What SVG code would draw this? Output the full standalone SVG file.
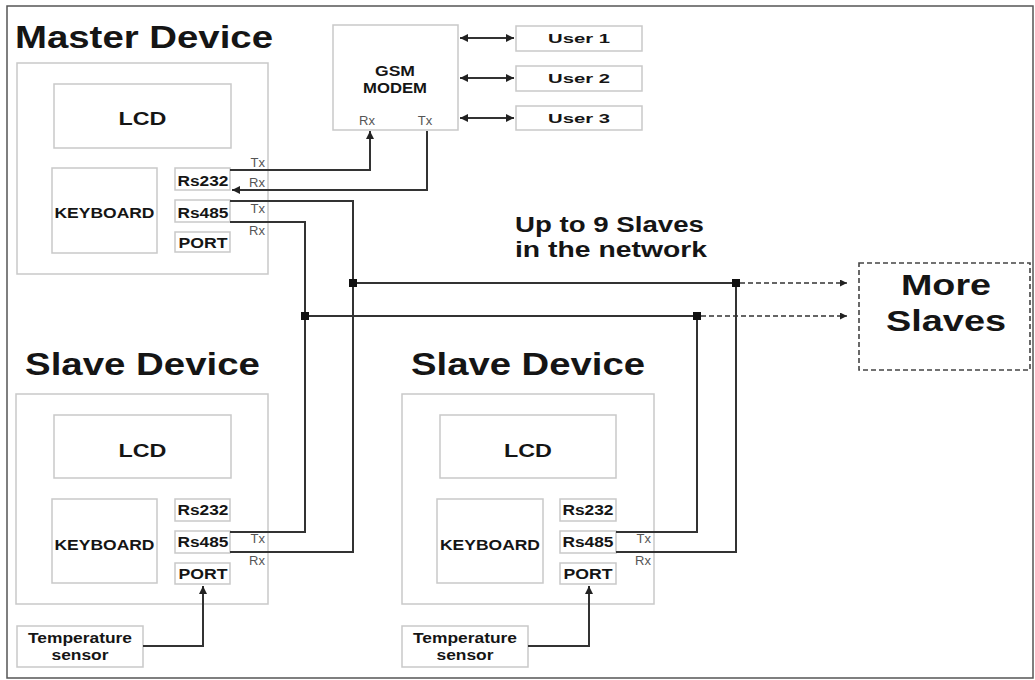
<svg xmlns="http://www.w3.org/2000/svg" width="1035" height="680" viewBox="0 0 1035 680">
<style>
.box{fill:#fff;stroke:#c9c9c9;stroke-width:1.5}
.b{font-family:"Liberation Sans",Arial,sans-serif;font-weight:bold;fill:#151515}
.t{font-family:"Liberation Sans",Arial,sans-serif;fill:#555;font-size:13px}
.w{fill:none;stroke:#333;stroke-width:2}
.d{fill:none;stroke:#333;stroke-width:1.6;stroke-dasharray:5 3}
.j{fill:#111}
</style>
<defs>
<marker id="ah" viewBox="0 0 10 10" refX="10" refY="5" markerWidth="10" markerHeight="8" markerUnits="userSpaceOnUse" orient="auto-start-reverse">
<path d="M0,0 L10,5 L0,10 z" fill="#222"/>
</marker>
<marker id="ahs" viewBox="0 0 10 10" refX="10" refY="5" markerWidth="9" markerHeight="7" markerUnits="userSpaceOnUse" orient="auto">
<path d="M0,0 L10,5 L0,10 z" fill="#222"/>
</marker>
</defs>
<rect x="7" y="6" width="1026" height="672" fill="#fff" stroke="#555" stroke-width="1.5"/>

<g id="master">
<text class="b" x="15" y="48" font-size="31" textLength="258" lengthAdjust="spacingAndGlyphs">Master Device</text>
<rect class="box" x="17" y="63" width="251" height="211"/>
<rect class="box" x="54" y="84" width="177" height="64"/>
<text class="b" x="142.5" y="125" font-size="18.5" text-anchor="middle" textLength="48" lengthAdjust="spacingAndGlyphs">LCD</text>
<rect class="box" x="52" y="168" width="105" height="85"/>
<text class="b" x="104.5" y="218" font-size="14" text-anchor="middle" textLength="100" lengthAdjust="spacingAndGlyphs">KEYBOARD</text>
<rect class="box" x="175" y="168" width="55" height="22"/>
<text class="b" x="203" y="186" font-size="14" text-anchor="middle" textLength="51" lengthAdjust="spacingAndGlyphs">Rs232</text>
<rect class="box" x="175" y="200" width="55" height="22"/>
<text class="b" x="203" y="218" font-size="14" text-anchor="middle" textLength="51" lengthAdjust="spacingAndGlyphs">Rs485</text>
<rect class="box" x="175" y="232" width="55" height="20"/>
<text class="b" x="203" y="248" font-size="14" text-anchor="middle" textLength="49" lengthAdjust="spacingAndGlyphs">PORT</text>
<text class="t" x="265" y="167" text-anchor="end">Tx</text>
<text class="t" x="265" y="187" text-anchor="end">Rx</text>
<text class="t" x="265" y="213" text-anchor="end">Tx</text>
<text class="t" x="265" y="235" text-anchor="end">Rx</text>
</g>

<g id="gsm">
<rect class="box" x="333" y="25" width="125" height="105"/>
<text class="b" x="395" y="76" font-size="14" text-anchor="middle" textLength="40" lengthAdjust="spacingAndGlyphs">GSM</text>
<text class="b" x="395" y="93" font-size="14" text-anchor="middle" textLength="64" lengthAdjust="spacingAndGlyphs">MODEM</text>
<text class="t" x="367" y="125" text-anchor="middle" font-size="14">Rx</text>
<text class="t" x="425" y="125" text-anchor="middle" font-size="14">Tx</text>
</g>

<g id="user1">
<rect class="box" x="516" y="26" width="126" height="25"/>
<text class="b" x="579" y="43" font-size="13" text-anchor="middle" textLength="62" lengthAdjust="spacingAndGlyphs">User 1</text>
</g>
<g id="user2">
<rect class="box" x="516" y="66" width="126" height="25"/>
<text class="b" x="579" y="83" font-size="13" text-anchor="middle" textLength="62" lengthAdjust="spacingAndGlyphs">User 2</text>
</g>
<g id="user3">
<rect class="box" x="516" y="106" width="126" height="24"/>
<text class="b" x="579" y="123" font-size="13" text-anchor="middle" textLength="62" lengthAdjust="spacingAndGlyphs">User 3</text>
</g>

<g id="network-label">
<text class="b" x="515" y="232" font-size="22" textLength="189" lengthAdjust="spacingAndGlyphs">Up to 9 Slaves</text>
<text class="b" x="515" y="257" font-size="22" textLength="192" lengthAdjust="spacingAndGlyphs">in the network</text>
</g>

<g id="more-slaves">
<rect x="859" y="263" width="171" height="107" fill="#fff" stroke="#444" stroke-width="1.6" stroke-dasharray="5 3"/>
<text class="b" x="946" y="295" font-size="29" text-anchor="middle" textLength="90" lengthAdjust="spacingAndGlyphs">More</text>
<text class="b" x="946" y="331" font-size="29" text-anchor="middle" textLength="120" lengthAdjust="spacingAndGlyphs">Slaves</text>
</g>

<g id="slave1">
<text class="b" x="25" y="375" font-size="31" textLength="235" lengthAdjust="spacingAndGlyphs">Slave Device</text>
<rect class="box" x="16" y="394" width="252" height="210"/>
<rect class="box" x="54" y="415" width="177" height="63"/>
<text class="b" x="142.5" y="457" font-size="18.5" text-anchor="middle" textLength="48" lengthAdjust="spacingAndGlyphs">LCD</text>
<rect class="box" x="52" y="499" width="105" height="84"/>
<text class="b" x="104.5" y="550" font-size="14" text-anchor="middle" textLength="100" lengthAdjust="spacingAndGlyphs">KEYBOARD</text>
<rect class="box" x="175" y="499" width="55" height="22"/>
<text class="b" x="203" y="515" font-size="14" text-anchor="middle" textLength="51" lengthAdjust="spacingAndGlyphs">Rs232</text>
<rect class="box" x="175" y="531" width="55" height="22"/>
<text class="b" x="203" y="547" font-size="14" text-anchor="middle" textLength="51" lengthAdjust="spacingAndGlyphs">Rs485</text>
<rect class="box" x="175" y="563" width="55" height="21"/>
<text class="b" x="203" y="579" font-size="14" text-anchor="middle" textLength="49" lengthAdjust="spacingAndGlyphs">PORT</text>
<text class="t" x="265" y="543" text-anchor="end">Tx</text>
<text class="t" x="265" y="565" text-anchor="end">Rx</text>
</g>

<g id="slave2">
<text class="b" x="411" y="375" font-size="31" textLength="234" lengthAdjust="spacingAndGlyphs">Slave Device</text>
<rect class="box" x="402" y="394" width="252" height="210"/>
<rect class="box" x="440" y="415" width="176" height="63"/>
<text class="b" x="528" y="457" font-size="18.5" text-anchor="middle" textLength="48" lengthAdjust="spacingAndGlyphs">LCD</text>
<rect class="box" x="437" y="499" width="106" height="84"/>
<text class="b" x="490" y="550" font-size="14" text-anchor="middle" textLength="100" lengthAdjust="spacingAndGlyphs">KEYBOARD</text>
<rect class="box" x="560" y="499" width="56" height="22"/>
<text class="b" x="588" y="515" font-size="14" text-anchor="middle" textLength="51" lengthAdjust="spacingAndGlyphs">Rs232</text>
<rect class="box" x="560" y="531" width="56" height="22"/>
<text class="b" x="588" y="547" font-size="14" text-anchor="middle" textLength="51" lengthAdjust="spacingAndGlyphs">Rs485</text>
<rect class="box" x="560" y="563" width="56" height="21"/>
<text class="b" x="588" y="579" font-size="14" text-anchor="middle" textLength="49" lengthAdjust="spacingAndGlyphs">PORT</text>
<text class="t" x="651" y="543" text-anchor="end">Tx</text>
<text class="t" x="651" y="565" text-anchor="end">Rx</text>
</g>

<g id="temp1">
<rect class="box" x="17" y="626" width="126" height="41"/>
<text class="b" x="80" y="643" font-size="14" text-anchor="middle" textLength="104" lengthAdjust="spacingAndGlyphs">Temperature</text>
<text class="b" x="80" y="660" font-size="14" text-anchor="middle" textLength="57" lengthAdjust="spacingAndGlyphs">sensor</text>
</g>
<g id="temp2">
<rect class="box" x="402" y="626" width="126" height="41"/>
<text class="b" x="465" y="643" font-size="14" text-anchor="middle" textLength="104" lengthAdjust="spacingAndGlyphs">Temperature</text>
<text class="b" x="465" y="660" font-size="14" text-anchor="middle" textLength="57" lengthAdjust="spacingAndGlyphs">sensor</text>
</g>

<g id="connectors">
<path class="w" d="M460,38 H514" marker-start="url(#ah)" marker-end="url(#ah)"/>
<path class="w" d="M460,78 H514" marker-start="url(#ah)" marker-end="url(#ah)"/>
<path class="w" d="M460,118 H514" marker-start="url(#ah)" marker-end="url(#ah)"/>
<path class="w" d="M230,170 H370 V131" marker-end="url(#ah)"/>
<path class="w" d="M427,131 V190 H232" marker-end="url(#ah)"/>
<path class="w" d="M230,201 H353 V552 H230"/>
<path class="w" d="M230,222 H305 V532 H230"/>
<path class="w" d="M353,283 H736"/>
<path class="w" d="M305,316 H697"/>
<path class="w" d="M736,283 V552 H616"/>
<path class="w" d="M697,316 V532 H616"/>
<path class="d" d="M740,283 H847" marker-end="url(#ahs)"/>
<path class="d" d="M701,316 H847" marker-end="url(#ahs)"/>
<rect class="j" x="349" y="279" width="8" height="8"/>
<rect class="j" x="301" y="312" width="8" height="8"/>
<rect class="j" x="732" y="279" width="8" height="8"/>
<rect class="j" x="693" y="312" width="8" height="8"/>
<path class="w" d="M143,646 H203 V586" marker-end="url(#ah)"/>
<path class="w" d="M528,646 H589 V586" marker-end="url(#ah)"/>
</g>
</svg>
